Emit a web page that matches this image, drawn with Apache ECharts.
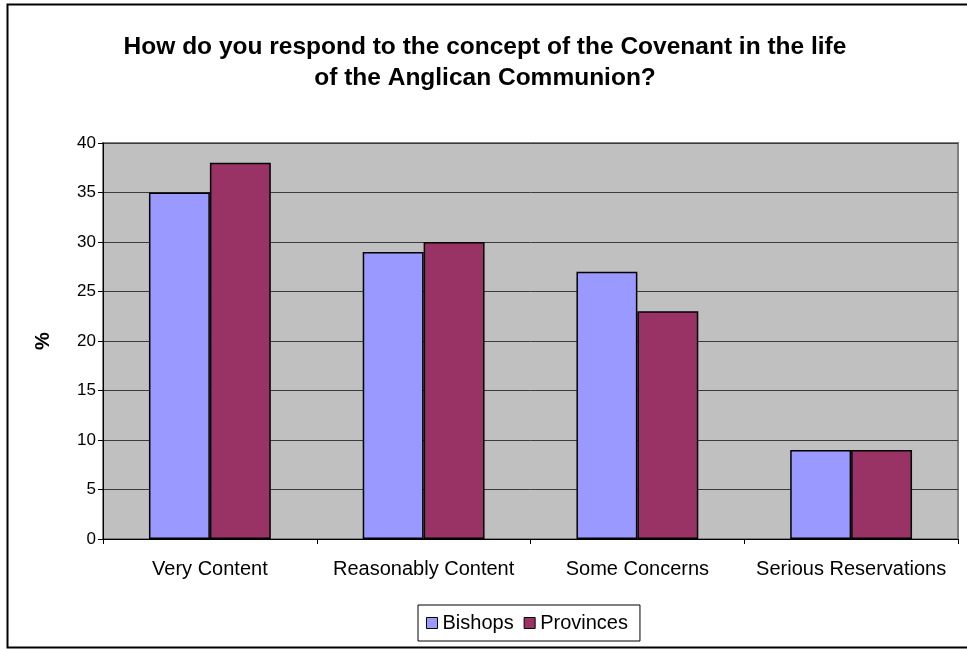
<!DOCTYPE html>
<html><head><meta charset="utf-8">
<script src="https://cdn.jsdelivr.net/npm/echarts@6/dist/echarts.min.js"></script>
<style>html,body{margin:0;padding:0;background:#fff}#c{width:967px;height:649px}</style>
</head><body><div id="c"></div>
<script>
const categories = ['Very Content', 'Reasonably Content', 'Some Concerns', 'Serious Reservations'];
const bishops = [35, 29, 27, 9];
const provinces = [38, 30, 23, 9];
const yTicks = [0, 5, 10, 15, 20, 25, 30, 35, 40];

const chart = echarts.init(document.getElementById('c'));
chart.setOption({
  animation: false,
  backgroundColor: '#fff',
  title: {
    text: 'How do you respond to the concept of the Covenant in the life\nof the Anglican Communion?',
    left: 480, top: 27, textAlign: 'center',
    textStyle: { fontFamily: 'Liberation Sans, Arial', fontSize: 24.5, fontWeight: 'bold', color: '#000', lineHeight: 31 }
  },
  graphic: [{
    type: 'rect', shape: { x: 7.5, y: 4.5, width: 980, height: 643 },
    style: { fill: 'none', stroke: '#000', lineWidth: 2 }, silent: true, z: 100
  }],
  legend: {
    top: 605, left: 418,
    itemWidth: 11, itemHeight: 11, itemGap: 10,
    icon: 'rect',
    borderColor: '#000', borderWidth: 1, padding: [8, 12, 8, 8],
    textStyle: { fontFamily: 'Liberation Sans, Arial', fontSize: 20, color: '#000' },
    itemStyle: { borderColor: '#000', borderWidth: 1 },
    data: ['Bishops', 'Provinces']
  },
  grid: { left: 103, right: 9, top: 143, bottom: 110, show: true, backgroundColor: '#C0C0C0', borderColor: '#808080', borderWidth: 2 },
  xAxis: {
    type: 'category', data: categories,
    axisLine: { lineStyle: { color: '#000', width: 1 } },
    axisTick: { show: true, length: 5, lineStyle: { color: '#000' } },
    axisLabel: { interval: 0, fontFamily: 'Liberation Sans, Arial', fontSize: 20, color: '#000', margin: 20 }
  },
  yAxis: {
    type: 'value', min: 0, max: 40, interval: 5,
    name: '%', nameLocation: 'middle', nameGap: 50, nameRotate: 90,
    nameTextStyle: { fontFamily: 'Liberation Sans, Arial', fontSize: 20, fontWeight: 'bold', color: '#000' },
    axisLine: { show: true, lineStyle: { color: '#000', width: 1 } },
    axisTick: { show: true, length: 5, lineStyle: { color: '#000' } },
    axisLabel: { fontFamily: 'Liberation Sans, Arial', fontSize: 17, color: '#000', margin: 7,
      formatter: v => yTicks.includes(v) ? String(v) : '' },
    splitLine: { show: true, lineStyle: { color: '#3a3a3a', width: 1 } }
  },
  series: [
    { name: 'Bishops', type: 'bar', data: bishops, barGap: '0%', barCategoryGap: '43%',
      itemStyle: { color: '#9999FF', borderColor: '#000', borderWidth: 1.5 } },
    { name: 'Provinces', type: 'bar', data: provinces, barGap: '0%', barCategoryGap: '43%',
      itemStyle: { color: '#993366', borderColor: '#000', borderWidth: 1.5 } }
  ]
});
</script></body></html>
